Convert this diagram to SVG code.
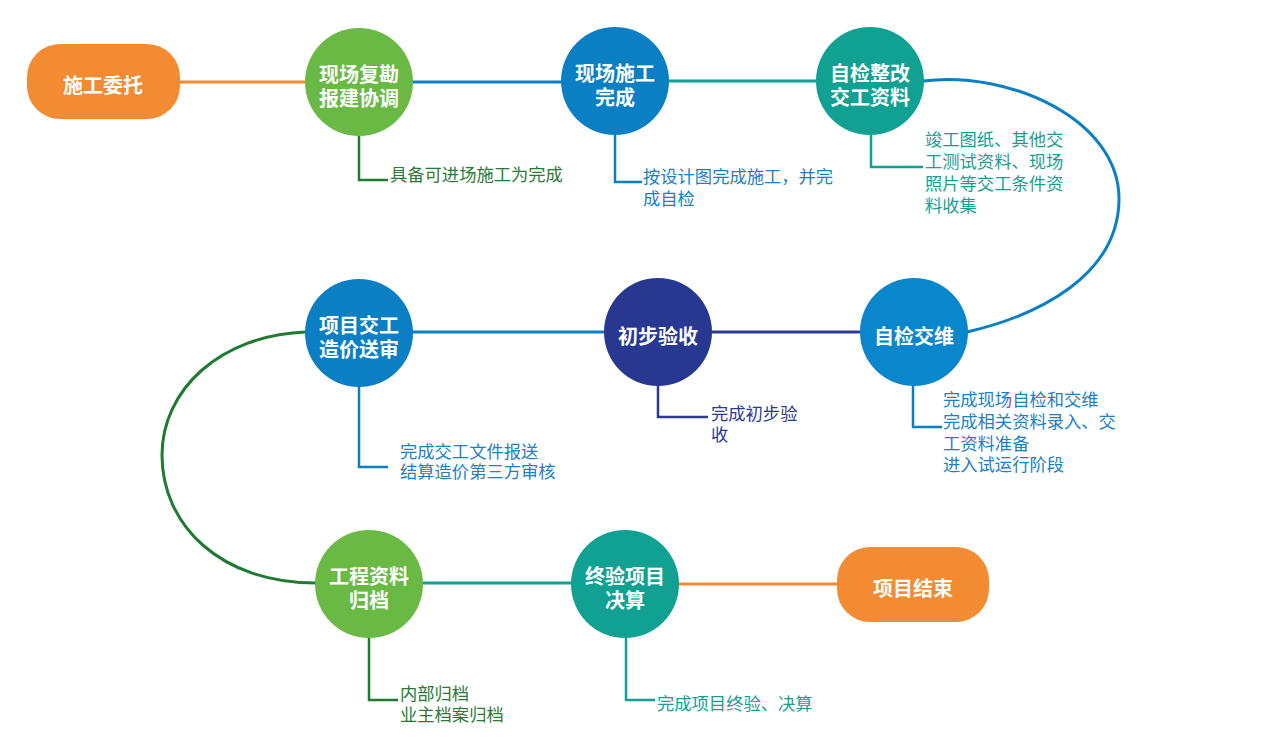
<svg xmlns="http://www.w3.org/2000/svg" width="1262" height="749" viewBox="0 0 1262 749">
<style>
.nt{font-family:"Noto Sans CJK SC","Noto Sans",sans-serif;font-weight:bold;font-size:20px;fill:#fff;text-anchor:middle;dominant-baseline:central}
.ct{font-family:"Noto Sans CJK SC","Noto Sans",sans-serif;font-size:17.3px;dominant-baseline:central}
.c{fill:none;stroke-width:3}
.co{fill:none;stroke-width:2.5}
.orange{stroke:#f28b32}.blue{stroke:#0b7fc4}.teal{stroke:#12a093}.navy{stroke:#2a3a8f}.dgreen{stroke:#1f7a32}
.tblue{fill:#1b80c4}.tteal{fill:#16a092}.tnavy{fill:#2a3a8f}.tgreen{fill:#2a7a36}
</style>
<rect width="1262" height="749" fill="#fff"/>
<g id="connectors">
<line class="c orange" x1="180" y1="82" x2="306" y2="82"/>
<line class="c blue" x1="412" y1="82" x2="562" y2="82"/>
<line class="c teal" x1="668" y1="81" x2="817" y2="81"/>
<path class="c blue" d="M923,81 C1010,70 1120,120 1119,200 C1118,275 1040,315 967,332"/>
<line class="c navy" x1="712" y1="332" x2="861" y2="332"/>
<line class="c blue" x1="412" y1="332" x2="605" y2="332"/>
<path class="c dgreen" d="M306,332 C220,335 162,390 162,455 C162,525 220,583 316,583"/>
<line class="c teal" x1="422" y1="583" x2="572" y2="583"/>
<line class="c orange" x1="678" y1="584" x2="838" y2="584"/>
<polyline class="co dgreen" points="359,135 359,180 388,180"/>
<polyline class="co blue" points="615,135 615,182 642,182"/>
<polyline class="co teal" points="871,135 871,167 923,167"/>
<polyline class="co blue" points="359,386 359,467 388,467"/>
<polyline class="co navy" points="658,386 658,417 708,417"/>
<polyline class="co blue" points="913,386 913,427 942,427"/>
<polyline class="co dgreen" points="369,637 369,700 398,700"/>
<polyline class="co teal" points="626,637 626,700 655,700"/>
</g>
<g id="n1"><rect x="27" y="44" width="153" height="75" rx="33" fill="#f28b32"/><text class="nt" x="103" y="84">施工委托</text></g>
<g id="n2"><circle cx="359" cy="82" r="54" fill="#6ab945"/><text class="nt"><tspan x="359" y="73">现场复勘</tspan><tspan x="359" y="97">报建协调</tspan></text></g>
<g id="n3"><circle cx="615" cy="81" r="54" fill="#0b7fc4"/><text class="nt"><tspan x="615" y="72">现场施工</tspan><tspan x="615" y="96">完成</tspan></text></g>
<g id="n4"><circle cx="870" cy="81" r="54" fill="#10a192"/><text class="nt"><tspan x="870" y="72">自检整改</tspan><tspan x="870" y="96">交工资料</tspan></text></g>
<g id="n5"><circle cx="914" cy="332" r="54" fill="#0a86cc"/><text class="nt" x="914" y="335">自检交维</text></g>
<g id="n6"><circle cx="658" cy="332" r="54" fill="#283891"/><text class="nt" x="658" y="335">初步验收</text></g>
<g id="n7"><circle cx="359" cy="333" r="54" fill="#0b7fc4"/><text class="nt"><tspan x="359" y="324">项目交工</tspan><tspan x="359" y="348">造价送审</tspan></text></g>
<g id="n8"><circle cx="369" cy="584" r="54" fill="#6ab945"/><text class="nt"><tspan x="369" y="575">工程资料</tspan><tspan x="369" y="599">归档</tspan></text></g>
<g id="n9"><circle cx="625" cy="584" r="54" fill="#10a192"/><text class="nt"><tspan x="625" y="575">终验项目</tspan><tspan x="625" y="599">决算</tspan></text></g>
<g id="n10"><rect x="837" y="547" width="152" height="75" rx="33" fill="#f28b32"/><text class="nt" x="913" y="587">项目结束</text></g>
<g id="callouts">
<text class="ct tgreen" x="390" y="173">具备可进场施工为完成</text>
<text class="ct tblue"><tspan x="643" y="175">按设计图完成施工，并完</tspan><tspan x="643" y="197">成自检</tspan></text>
<text class="ct tteal"><tspan x="925" y="138">竣工图纸、其他交</tspan><tspan x="925" y="160">工测试资料、现场</tspan><tspan x="925" y="182">照片等交工条件资</tspan><tspan x="925" y="204">料收集</tspan></text>
<text class="ct tblue"><tspan x="400" y="450">完成交工文件报送</tspan><tspan x="400" y="470">结算造价第三方审核</tspan></text>
<text class="ct tnavy"><tspan x="711" y="412">完成初步验</tspan><tspan x="711" y="433">收</tspan></text>
<text class="ct tblue"><tspan x="943" y="398">完成现场自检和交维</tspan><tspan x="943" y="420">完成相关资料录入、交</tspan><tspan x="943" y="442">工资料准备</tspan><tspan x="943" y="463">进入试运行阶段</tspan></text>
<text class="ct tgreen"><tspan x="400" y="692">内部归档</tspan><tspan x="400" y="713">业主档案归档</tspan></text>
<text class="ct tteal" x="657" y="702">完成项目终验、决算</text>
</g>
</svg>
